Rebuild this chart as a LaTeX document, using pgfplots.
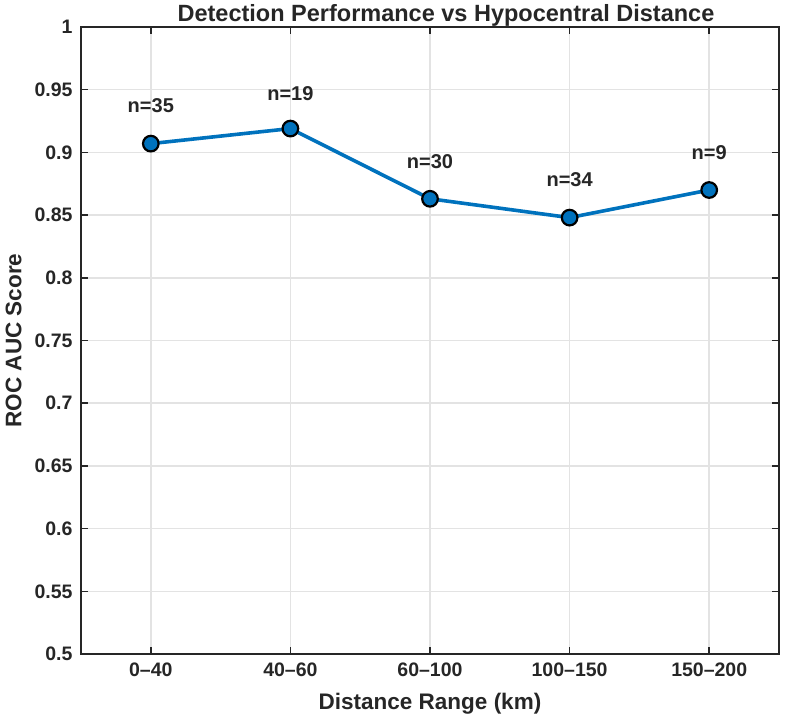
\documentclass[border=0pt]{standalone}
\usepackage{fontspec}
\setmainfont{Liberation Sans}
\usepackage{pgfplots}
\pgfplotsset{compat=1.18}
\definecolor{mblue}{RGB}{0,114,189}
\definecolor{mtext}{RGB}{38,38,38}
\begin{document}
\begin{tikzpicture}[x=1pt,y=1pt]
\path[use as bounding box] (0,0) rectangle (791,715);
\begin{axis}[
  at={(81pt,61pt)}, anchor=south west,
  width=698pt, height=627pt, scale only axis,
  xmin=-0.5, xmax=4.5, ymin=0.5, ymax=1,
  xtick={0,1,2,3,4},
  xticklabels={0--40,40--60,60--100,100--150,150--200},
  ytick={0.5,0.55,...,1.0},
  yticklabels={0.5,0.55,0.6,0.65,0.7,0.75,0.8,0.85,0.9,0.95,1},
  tick align=inside, major tick length=7pt,
  xtick pos=both, ytick pos=both,
  grid=major, grid style={line width=1.5pt, gray!22},
  axis line style={line width=2pt, mtext},
  tick style={line width=1.6pt, mtext},
  ticklabel style={font=\fontsize{19.5}{22}\selectfont\bfseries, text=mtext},
  /pgf/number format/assume math mode=true,
  xlabel={Distance Range (km)}, ylabel={ROC AUC Score},
  label style={font=\fontsize{22.5}{26}\selectfont\bfseries, text=mtext},
  xlabel style={yshift=-10pt},
  ylabel style={yshift=6pt},
  title={Detection Performance vs Hypocentral Distance},
  title style={font=\fontsize{23.5}{27}\selectfont\bfseries, text=mtext, yshift=-9pt, xshift=16pt},
  xticklabel style={yshift=-5pt},
  yticklabel style={xshift=-5pt},
]
\addplot[mblue, line width=3.6pt, mark=*, mark size=7.8pt,
  mark options={fill=mblue, draw=black, line width=2.2pt}]
coordinates {(0,0.907) (1,0.919) (2,0.863) (3,0.848) (4,0.870)};
\node[font=\fontsize{20}{23}\selectfont\bfseries, text=mtext] at (axis cs:0,0.937) {n=35};
\node[font=\fontsize{20}{23}\selectfont\bfseries, text=mtext] at (axis cs:1,0.947) {n=19};
\node[font=\fontsize{20}{23}\selectfont\bfseries, text=mtext] at (axis cs:2,0.893) {n=30};
\node[font=\fontsize{20}{23}\selectfont\bfseries, text=mtext] at (axis cs:3,0.878) {n=34};
\node[font=\fontsize{20}{23}\selectfont\bfseries, text=mtext] at (axis cs:4,0.900) {n=9};
\end{axis}
\end{tikzpicture}
\end{document}
